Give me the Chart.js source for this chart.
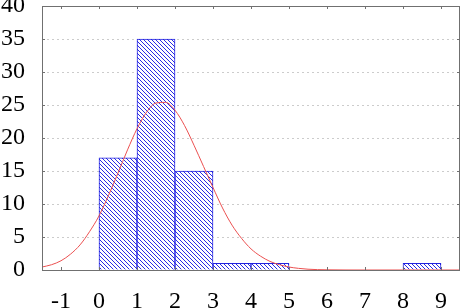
<!DOCTYPE html>
<html>
<head>
<meta charset="utf-8">
<script src="https://cdn.jsdelivr.net/npm/chart.js@4"></script>
<style>
  html, body { margin: 0; padding: 0; background: #fff; }
  #wrap { width: 461px; height: 308px; }
</style>
</head>
<body>
<div id="wrap"><canvas id="hist" width="461" height="308"></canvas></div>
<script>
// histogram bins (left edge) and counts
const binStarts = [0, 1, 2, 3, 4, 8];
const counts = [17, 35, 15, 1, 1, 1];

// fitted normal curve
const curveX = [-1.5, -1.25, -1, -0.75, -0.5, -0.25, 0, 0.25, 0.5, 0.75, 1, 1.25, 1.5, 1.75, 2, 2.25, 2.5, 2.75, 3, 3.25, 3.5, 3.75, 4, 4.25, 4.5, 4.75, 5, 5.25, 5.5, 6, 7, 8, 9, 9.5];
const curveY = [0.45, 0.8, 1.4, 2.4, 3.8, 5.8, 8.2, 11.3, 14.7, 18.2, 21.4, 23.9, 25.3, 25.4, 24.2, 21.9, 18.9, 15.7, 12.5, 9.4, 6.8, 4.8, 3.2, 2.1, 1.3, 0.8, 0.45, 0.25, 0.12, 0.03, 0, 0, 0, 0];

const xTicks = [-1, 0, 1, 2, 3, 4, 5, 6, 7, 8, 9];
const yTicks = [0, 5, 10, 15, 20, 25, 30, 35, 40];

const ctx = document.getElementById('hist');

// diagonal hatch fill for the bars
function hatch() {
  const c = document.createElement('canvas');
  c.width = 4; c.height = 4;
  const g = c.getContext('2d');
  g.fillStyle = '#fff';
  g.fillRect(0, 0, 4, 4);
  g.strokeStyle = '#2a2ae6';
  g.lineWidth = 1;
  g.beginPath();
  g.moveTo(-1, -1); g.lineTo(5, 5);
  g.moveTo(-1, 3); g.lineTo(1, 5);
  g.moveTo(3, -1); g.lineTo(5, 1);
  g.stroke();
  return ctx.getContext('2d').createPattern(c, 'repeat');
}

// frame around the plot plus little inward ticks on all sides
const frame = {
  id: 'frame',
  afterDraw(chart) {
    const g = chart.ctx, a = chart.chartArea;
    const xs = chart.scales.x, ys = chart.scales.y;
    g.save();
    g.strokeStyle = '#707070';
    g.lineWidth = 1;
    g.beginPath();
    xTicks.forEach(v => {
      const px = Math.round(xs.getPixelForValue(v)) + 0.5;
      g.moveTo(px, a.bottom); g.lineTo(px, a.bottom - 3);
      g.moveTo(px, a.top); g.lineTo(px, a.top + 3);
    });
    yTicks.forEach(v => {
      const py = Math.round(ys.getPixelForValue(v)) + 0.5;
      g.moveTo(a.left, py); g.lineTo(a.left + 3, py);
      g.moveTo(a.right, py); g.lineTo(a.right - 3, py);
    });
    g.stroke();
    g.strokeRect(Math.round(a.left) + 0.5, Math.round(a.top) + 0.5,
      Math.round(a.right - a.left) - 1, Math.round(a.bottom - a.top));
    g.restore();
  }
};

const font = { family: "'Liberation Serif', 'Times New Roman', serif", size: 24 };

new Chart(ctx, {
  type: 'bar',
  data: {
    datasets: [
      {
        type: 'line',
        data: curveX.map((x, i) => ({ x: x, y: curveY[i] })),
        borderColor: 'rgb(235, 80, 80)',
        borderWidth: 1,
        pointRadius: 0,
        cubicInterpolationMode: 'monotone',
        order: 0
      },
      {
        type: 'bar',
        data: binStarts.map((b, i) => ({ x: b + 0.5, y: counts[i] })),
        backgroundColor: hatch(),
        borderColor: '#2020e0',
        borderWidth: 1,
        barPercentage: 1,
        categoryPercentage: 1,
        order: 1
      }
    ]
  },
  options: {
    responsive: false,
    animation: false,
    devicePixelRatio: 1,
    layout: { padding: { top: 6, right: 1, left: 0, bottom: 0 } },
    plugins: { legend: { display: false }, tooltip: { enabled: false } },
    scales: {
      x: {
        type: 'linear',
        min: -1.5,
        max: 9.5,
        offset: false,
        afterBuildTicks: s => { s.ticks = xTicks.map(v => ({ value: v })); },
        afterFit: s => { s.height = 38; s.paddingLeft = 0; s.paddingRight = 0; },
        grid: { display: false, drawTicks: false },
        border: { display: false },
        ticks: { font: font, color: '#000', padding: 17, maxRotation: 0, autoSkip: false }
      },
      y: {
        min: 0,
        max: 40,
        afterBuildTicks: s => { s.ticks = yTicks.map(v => ({ value: v })); },
        afterFit: s => { s.width = 42; s.paddingTop = 0; s.paddingBottom = 0; },
        grid: {
          drawTicks: false,
          color: ctx2 => (ctx2.tick.value === 0 || ctx2.tick.value === 40) ? 'rgba(0,0,0,0)' : '#cccccc',
          lineWidth: 1
        },
        border: { display: false, dash: [2, 3] },
        ticks: { font: font, color: '#000', padding: 17 }
      }
    }
  },
  plugins: [frame]
});
</script>
</body>
</html>
